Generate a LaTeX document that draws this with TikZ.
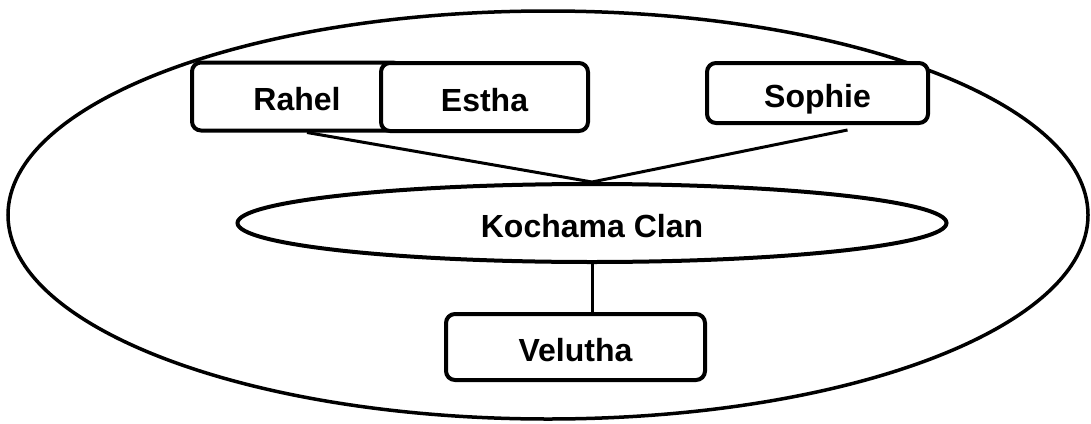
\documentclass[tikz,border=0pt]{standalone}
\usepackage{fontspec}
\setmainfont{Liberation Sans}
\usetikzlibrary{shapes}
\tikzset{
  member/.style={draw, line width=4pt, rounded corners=9pt, fill=white, minimum height=68pt, text height=28pt, text depth=0pt, font=\fontsize{32}{36}\selectfont\bfseries},
  clan/.style={draw, ellipse, line width=4pt, fill=white, text height=28pt, text depth=0pt, font=\fontsize{32}{36}\selectfont\bfseries},
}
\begin{document}
\begin{tikzpicture}[x=1pt, y=-1pt]
\useasboundingbox (0,0) rectangle (1091,423);
% \node[draw, ellipse] (world) {};
\node[draw, ellipse, line width=3.5pt, minimum width=1080pt, minimum height=408pt] (world) at (548,215) {};
\node[member, minimum width=210pt] (rahel) at (297,96.5) {Rahel};
\node[member, minimum width=207pt] (estha) at (484.5,97) {Estha};
\node[member, minimum width=221pt, minimum height=60pt] (sophie) at (817.5,93) {Sophie};
\node[clan, minimum width=709pt, minimum height=78pt] (kochama) at (592,223) {Kochama Clan};
\node[member, minimum width=259pt, minimum height=66pt] (velutha) at (575.5,347) {Velutha};
\draw[line width=3pt] ([xshift=10pt]rahel.south) -- (kochama.north);
\draw[line width=3pt] ([xshift=30pt,yshift=-5pt]sophie.south) -- (kochama.north);
\draw[line width=3pt] (kochama.south) -- (kochama.south |- velutha.north);
\end{tikzpicture}
\end{document}
